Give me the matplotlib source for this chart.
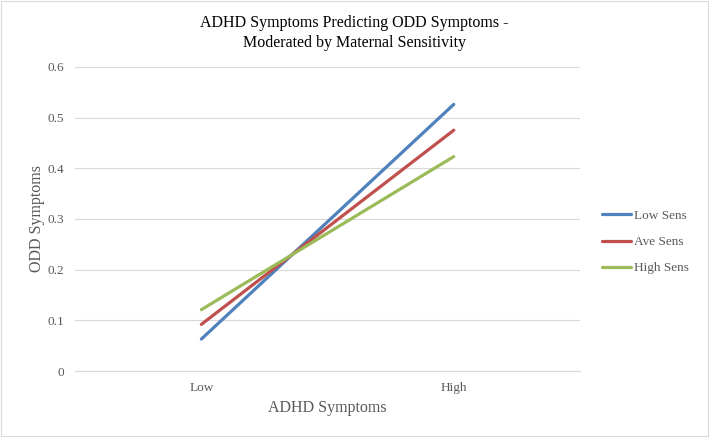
import matplotlib
matplotlib.use("Agg")
import matplotlib.pyplot as plt
from matplotlib.patches import Rectangle

plt.rcParams['font.family'] = ['Liberation Serif', 'DejaVu Serif']

categories = ['Low', 'High']
low_sens = [0.063, 0.526]
ave_sens = [0.092, 0.475]
high_sens = [0.121, 0.423]
series = [('Low Sens', low_sens, '#4f81bd'),
          ('Ave Sens', ave_sens, '#c0504d'),
          ('High Sens', high_sens, '#9bbb59')]

fig = plt.figure(figsize=(7.09, 4.37), dpi=100)
ax = fig.add_axes([0.106, 0.151, 0.712, 0.696])

x = [0, 1]
for name, vals, color in series:
    ax.plot(x, vals, color=color, lw=2.3, label=name, solid_capstyle='round')

ax.set_xlim(-0.5, 1.5)
ax.set_ylim(0, 0.6)
ax.set_xticks(x)
ax.set_xticklabels(categories)
ax.set_yticks([0, 0.1, 0.2, 0.3, 0.4, 0.5, 0.6])
ax.set_yticklabels(['0', '0.1', '0.2', '0.3', '0.4', '0.5', '0.6'])
ax.yaxis.grid(True, color='#d9d9d9', lw=0.8)
ax.set_axisbelow(True)
for s in ['top', 'right', 'left']:
    ax.spines[s].set_visible(False)
ax.spines['bottom'].set_color('#d9d9d9')
ax.tick_params(axis='both', length=0, colors='#595959', labelsize=9.5, pad=8)

ax.set_xlabel('ADHD Symptoms', fontsize=11.5, color='#595959', labelpad=4)
# y label placed by hand, close to the tick labels like the original
fig.text(0.052, 0.499, 'ODD Symptoms', rotation=90, ha='center', va='center',
         fontsize=11.5, color='#595959')
fig.text(0.5, 0.925, 'ADHD Symptoms Predicting ODD Symptoms -\nModerated by Maternal Sensitivity',
         ha='center', va='center', fontsize=11.5, linespacing=1.3)

ax.legend(loc='center left', bbox_to_anchor=(1.02, 0.424), frameon=False,
          fontsize=9.5, labelcolor='#595959', handlelength=2.2, handletextpad=0.2,
          labelspacing=1.05)

fig.patches.append(Rectangle((0.002, 0.003), 0.996, 0.994, transform=fig.transFigure,
                             fill=False, edgecolor='#d9d9d9', lw=0.8))

fig.savefig('out.png', dpi=100)
